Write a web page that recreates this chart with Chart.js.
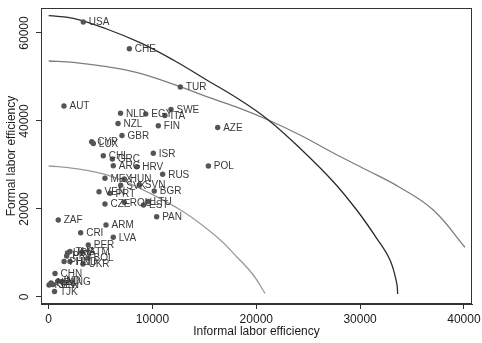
<!DOCTYPE html>
<html>
<head>
<meta charset="utf-8">
<script src="https://cdn.jsdelivr.net/npm/chart.js@4/dist/chart.umd.min.js"></script>
<style>
  html, body { margin: 0; padding: 0; background: #fff; }
  canvas { display: block; }
</style>
</head>
<body>
<canvas id="frontier" width="482" height="343"></canvas>
<script>
// ====== DATA ======
const countries = ['USA', 'CHE', 'TUR', 'AUT', 'SWE', 'NLD', 'EGY', 'ITA', 'NZL', 'FIN',
  'AZE', 'GBR', 'CYP', 'LUX', 'ISR', 'CHL', 'GRC', 'POL', 'ARG', 'HRV',
  'RUS', 'MEX', 'HUN', 'SVK', 'SVN', 'BGR', 'VEN', 'PRT', 'CZE', 'ROU',
  'EST', 'LTU', 'PAN', 'ZAF', 'ARM', 'CRI', 'LVA', 'PER', 'THA', 'GTM',
  'URY', 'PRY', 'BOL', 'PHL', 'HND', 'UKR', 'CHN', 'MNG', 'IND', 'NPL',
  'SEN', 'KEN', 'TJK'];
const informal = [3330, 7770, 12680, 1470, 11780, 6920, 9350, 11200, 6680, 10560,
  16280, 7060, 4140, 4300, 10080, 5260, 6130, 15380, 6220, 8480,
  10980, 5420, 7280, 6940, 8730, 10170, 4850, 5900, 5420, 7280,
  9130, 9570, 10400, 920, 5520, 3080, 6220, 3810, 2050, 3210,
  1810, 1730, 3790, 1480, 2050, 3300, 610, 1280, 900, 220,
  410, 30, 560];
const formal = [62500, 56430, 47730, 43410, 42610, 41750, 41590, 41250, 39430, 38910,
  38520, 36700, 35300, 34900, 32660, 32110, 31360, 29770, 29840, 29610,
  27890, 26980, 26820, 25390, 25450, 24090, 23930, 23570, 21140, 21520,
  20910, 21700, 18250, 17500, 16360, 14610, 13570, 11820, 10340, 10230,
  10000, 9320, 8860, 8070, 8070, 7500, 5340, 3520, 3640, 3180,
  2840, 2730, 1250];

// frontier curves
const outerX = [0, 2370, 5590, 8800, 12000, 15220, 18430, 21160, 24210, 27420, 29670, 31600, 32880, 33530, 33620];
const outerY = [63930, 63340, 60910, 57800, 53860, 49320, 44770, 40230, 33800, 26200, 19770, 13340, 8410, 3110, 680];
const middleX = [0, 2370, 5590, 8800, 12650, 15220, 18430, 21160, 24210, 27420, 30640, 33840, 37050, 40100];
const middleY = [53640, 53340, 52340, 50840, 47800, 45520, 42890, 40230, 36820, 32730, 28860, 24890, 19770, 11300];
const innerX = [0, 2370, 5590, 8800, 12970, 16180, 18110, 19710, 20840];
const innerY = [29770, 29250, 27730, 24700, 19390, 13700, 9160, 5000, 840];

const xTicks = [0, 10000, 20000, 30000, 40000];
const yTicks = [0, 20000, 40000, 60000];

// ====== HELPERS ======
const FONT = '"Liberation Sans", Arial, sans-serif';
const AXIS_COLOR = '#333';
const TEXT_COLOR = '#1a1a1a';

const pairs = (xs, ys) => xs.map((x, i) => ({ x: x, y: ys[i] }));

function curve(xs, ys, color) {
  return {
    type: 'line',
    data: pairs(xs, ys),
    borderColor: color,
    borderWidth: 1.3,
    pointRadius: 0,
    fill: false,
    tension: 0.4
  };
}

// country codes to the right of each marker
const pointLabels = {
  id: 'pointLabels',
  afterDatasetsDraw(chart) {
    const ctx = chart.ctx;
    const meta = chart.getDatasetMeta(0);
    ctx.save();
    ctx.font = '10px ' + FONT;
    ctx.fillStyle = '#3a3a3a';
    ctx.textBaseline = 'middle';
    ctx.textAlign = 'left';
    meta.data.forEach((el, i) => {
      ctx.fillText(countries[i], el.x + 5.5, el.y + 0.5);
    });
    ctx.restore();
  }
};

// vertical y tick labels + plot frame
const frameAndYLabels = {
  id: 'frameAndYLabels',
  afterDraw(chart) {
    const ctx = chart.ctx;
    const a = chart.chartArea;
    const ys = chart.scales.y;
    ctx.save();
    ctx.strokeStyle = AXIS_COLOR;
    ctx.lineWidth = 1;
    ctx.strokeRect(a.left + 0.5, a.top + 0.5, a.right - a.left - 1, a.bottom - a.top - 1);

    ctx.font = '12px ' + FONT;
    ctx.fillStyle = TEXT_COLOR;
    ctx.textAlign = 'center';
    ctx.textBaseline = 'middle';
    ys.ticks.forEach(t => {
      const y = ys.getPixelForValue(t.value);
      ctx.save();
      ctx.translate(25, y);
      ctx.rotate(-Math.PI / 2);
      ctx.fillText(String(t.value), 0, 0);
      ctx.restore();
    });
    ctx.restore();
  }
};

// ====== CHART ======
new Chart(document.getElementById('frontier').getContext('2d'), {
  type: 'scatter',
  data: {
    datasets: [
      {
        data: pairs(informal, formal),
        backgroundColor: '#555',
        borderColor: '#555',
        pointRadius: 2.7,
        pointHoverRadius: 2.7,
        borderWidth: 0
      },
      curve(outerX, outerY, '#2b2b2b'),
      curve(middleX, middleY, '#7d7d7d'),
      curve(innerX, innerY, '#9a9a9a')
    ]
  },
  options: {
    responsive: false,
    devicePixelRatio: 1,
    animation: false,
    events: [],
    layout: { padding: { left: 0, right: 10, top: 8, bottom: 0 } },
    plugins: {
      legend: { display: false },
      tooltip: { enabled: false }
    },
    scales: {
      x: {
        type: 'linear',
        min: -742,
        max: 40780,
        afterBuildTicks: s => { s.ticks = xTicks.map(v => ({ value: v })); },
        afterFit: s => { s.height = 39; s.paddingLeft = 0; s.paddingRight = 0; },
        ticks: {
          autoSkip: false,
          maxRotation: 0,
          padding: 3,
          color: TEXT_COLOR,
          font: { family: FONT, size: 12 },
          callback: v => String(v)
        },
        grid: { drawOnChartArea: false, tickLength: 5, color: AXIS_COLOR },
        border: { color: AXIS_COLOR },
        title: {
          display: true,
          text: 'Informal labor efficiency',
          color: TEXT_COLOR,
          font: { family: FONT, size: 12 },
          padding: { top: 0, bottom: 4 }
        }
      },
      y: {
        type: 'linear',
        min: -1591,
        max: 65680,
        afterBuildTicks: s => { s.ticks = yTicks.map(v => ({ value: v })); },
        afterFit: s => { s.width = 41; s.paddingTop = 0; s.paddingBottom = 0; },
        ticks: { display: false },
        grid: { drawOnChartArea: false, tickLength: 5, color: AXIS_COLOR },
        border: { color: AXIS_COLOR },
        title: {
          display: true,
          text: 'Formal labor efficiency',
          color: TEXT_COLOR,
          font: { family: FONT, size: 12 },
          padding: { top: 4, bottom: 0 }
        }
      }
    }
  },
  plugins: [pointLabels, frameAndYLabels]
});
</script>
</body>
</html>
